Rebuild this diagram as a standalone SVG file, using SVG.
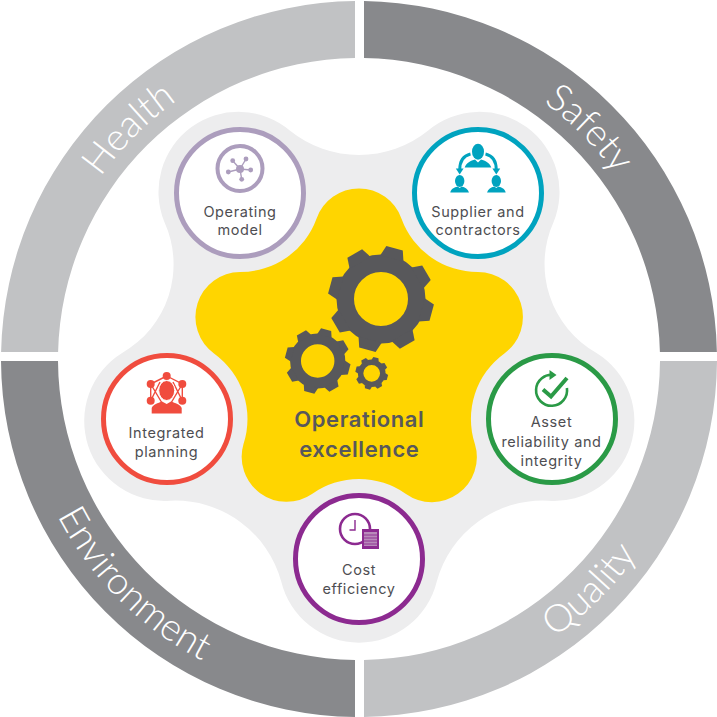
<svg xmlns="http://www.w3.org/2000/svg" xmlns:xlink="http://www.w3.org/1999/xlink" width="717" height="717" viewBox="0 0 717 717">
<style>
.ring-l{fill:#c1c2c4}
.ring-d{fill:#88898c}
.seg{font-family:"Lato","Open Sans",sans-serif;font-weight:300;font-size:38px;fill:#fff;text-anchor:middle}
.lbl{font-family:"Inter","Noto Sans",sans-serif;font-size:14.5px;letter-spacing:.6px;fill:#4e4e52;text-anchor:middle}
.main{font-family:"Inter","Noto Sans",sans-serif;font-weight:600;font-size:22px;letter-spacing:.6px;fill:#58585b;text-anchor:middle}
.disc{fill:#fff;stroke-width:5}
.gearc{fill:#58585b}
</style>
<defs>
<path id="pHealth" d="M43,359A316,316 0 0 1 359,43"/>
<path id="pSafety" d="M359,43A316,316 0 0 1 675,359"/>
<path id="pEnv" d="M19,359A340,340 0 0 0 359,699"/>
<path id="pQual" d="M359,699A340,340 0 0 0 699,359"/>
<polygon id="tooth" points="42,-12 52.500,-8.500 52.500,8.500 42,12"/>
<g id="gear" class="gearc">
<circle cx="0" cy="0" r="35.750" fill="none" stroke="#58585b" stroke-width="17.500"/>
<use xlink:href="#tooth" transform="rotate(-75)"/>
<use xlink:href="#tooth" transform="rotate(-30)"/>
<use xlink:href="#tooth" transform="rotate(15)"/>
<use xlink:href="#tooth" transform="rotate(60)"/>
<use xlink:href="#tooth" transform="rotate(105)"/>
<use xlink:href="#tooth" transform="rotate(150)"/>
<use xlink:href="#tooth" transform="rotate(195)"/>
<use xlink:href="#tooth" transform="rotate(240)"/>
</g>
</defs>
<rect width="717" height="717" fill="#fff"/>

<g id="ring-health">
<path class="ring-l" d="M355,1A358,358 0 0 0 1.100,352H58.100A301,301 0 0 1 355,58Z"/>
<text class="seg"><textPath xlink:href="#pHealth" startOffset="50%">Health</textPath></text>
</g>
<g id="ring-safety">
<path class="ring-d" d="M364,1A358,358 0 0 1 716.900,352H659.900A301,301 0 0 0 364,58Z"/>
<text class="seg"><textPath xlink:href="#pSafety" startOffset="50%">Safety</textPath></text>
</g>
<g id="ring-environment">
<path class="ring-d" d="M1,361A358,358 0 0 0 355,717V660A301,301 0 0 1 58,361Z"/>
<text class="seg"><textPath xlink:href="#pEnv" startOffset="50%">Environment</textPath></text>
</g>
<g id="ring-quality">
<path class="ring-l" d="M717,361A358,358 0 0 1 364,717V660A301,301 0 0 0 660,361Z"/>
<text class="seg"><textPath xlink:href="#pQual" startOffset="50%">Quality</textPath></text>
</g>

<path id="backdrop" fill="#ededee" d="M290.100,130.700A110,110 0 0 0 427.900,130.700A80,80 0 0 1 553.600,222A102,102 0 0 0 596.500,352.900A80,80 0 0 1 548.500,500.700A110,110 0 0 0 436.700,581.700A80,80 0 0 1 281.300,581.700A110,110 0 0 0 170.100,500.700A80,80 0 0 1 122.100,352.900A102,102 0 0 0 164.400,222A80,80 0 0 1 290.100,130.700Z"/>

<g id="centre">
<path fill="#ffd500" d="M316.500,218.700A45,45 0 0 1 401.500,218.700A81,81 0 0 0 478,272A45,45 0 0 1 504.400,353.400A81,81 0 0 0 474.900,444.100A45,45 0 0 1 406,494A81,81 0 0 0 312,494A45,45 0 0 1 243.500,444.100A81,81 0 0 0 214,353.400A45,45 0 0 1 240,272A81,81 0 0 0 316.500,218.700Z"/>
<use xlink:href="#gear" transform="translate(381,299)"/>
<use xlink:href="#gear" transform="translate(317.700,361) scale(.62)"/>
<use xlink:href="#gear" transform="translate(371.700,373.300) scale(.31)"/>
<text class="main" x="359.300" y="427.300">Operational</text>
<text class="main" x="359.300" y="457.300">excellence</text>
</g>

<g id="node-operating-model">
<circle class="disc" cx="240" cy="193" r="63.500" stroke="#ac9dbd"/>
<circle cx="240" cy="168.500" r="22.500" fill="none" stroke="#ac9dbd" stroke-width="4"/>
<g stroke="#ac9dbd" stroke-width="1.400">
<line x1="240" y1="169" x2="232.700" y2="160.700"/>
<line x1="240" y1="169" x2="246" y2="159"/>
<line x1="240" y1="169" x2="250.700" y2="170"/>
<line x1="240" y1="169" x2="241.700" y2="179.300"/>
<line x1="240" y1="169" x2="228.300" y2="172"/>
</g>
<g fill="#ac9dbd">
<circle cx="240" cy="169" r="4"/>
<circle cx="232.700" cy="160.700" r="2.400"/>
<circle cx="246" cy="159" r="2.400"/>
<circle cx="250.700" cy="170" r="2.400"/>
<circle cx="241.700" cy="179.300" r="2.400"/>
<circle cx="228.300" cy="172" r="2.400"/>
</g>
<text class="lbl" x="240" y="216.700">Operating</text>
<text class="lbl" x="240" y="234.500">model</text>
</g>

<g id="node-supplier">
<circle class="disc" cx="478" cy="193" r="63.500" stroke="#00a3bf"/>
<g fill="#00a3bf">
<ellipse cx="478" cy="151.700" rx="6" ry="8"/>
<path d="M464.700,167.500C466,163 471,160.500 475,159.500L478,162.500L481,159.500C485,160.500 490,163 491.300,167.500Z"/>
<ellipse cx="459.700" cy="181" rx="4.700" ry="6"/>
<path d="M450.300,192.500C451,189 454,187.500 457.700,186.500L459.700,188L461.700,186.500C465,187.500 468,189 469,192.500Z"/>
<ellipse cx="496.300" cy="181" rx="4.700" ry="6"/>
<path d="M487,192.500C488,189 491,187.500 494.300,186.500L496.300,188L498.300,186.500C502,187.500 505,189 505.700,192.500Z"/>
<path d="M455.800,168.500L463.600,168.500L459.700,174.500Z"/>
<path d="M492.400,168.500L500.200,168.500L496.300,174.500Z"/>
</g>
<g fill="none" stroke="#00a3bf" stroke-width="3">
<path d="M470.500,154C464,155.500 459.700,161 459.700,170"/>
<path d="M485.500,154C492,155.500 496.300,161 496.300,170"/>
</g>
<text class="lbl" x="478" y="216.700">Supplier and</text>
<text class="lbl" x="478" y="234.500">contractors</text>
</g>

<g id="node-asset">
<circle class="disc" cx="552" cy="419" r="63.500" stroke="#2a9a46"/>
<path d="M554,375A15.500,15.500 0 1 0 566.900,388" fill="none" stroke="#2a9a46" stroke-width="2.600"/>
<polygon points="549.500,370 556.500,375 549.500,380" fill="#2a9a46"/>
<polyline points="543,389.500 551,396.500 567,378" fill="none" stroke="#2a9a46" stroke-width="4"/>
<text class="lbl" x="551.500" y="427">Asset</text>
<text class="lbl" x="551.500" y="446.500">reliability and</text>
<text class="lbl" x="551.500" y="466">integrity</text>
</g>

<g id="node-cost">
<circle class="disc" cx="359" cy="559" r="63.500" stroke="#8c2a90"/>
<circle cx="355" cy="529" r="15" fill="none" stroke="#8c2a90" stroke-width="2.600"/>
<polyline points="355,520 355,530 349.500,530" fill="none" stroke="#8c2a90" stroke-width="1.400"/>
<rect x="362" y="529" width="17" height="20" fill="#8c2a90"/>
<rect x="364" y="532" width="13" height="14" fill="#b98abb"/>
<g stroke="#8c2a90" stroke-width=".9">
<line x1="364" y1="535" x2="377" y2="535"/>
<line x1="364" y1="538" x2="377" y2="538"/>
<line x1="364" y1="541" x2="377" y2="541"/>
<line x1="364" y1="544" x2="377" y2="544"/>
</g>
<text class="lbl" x="359" y="575">Cost</text>
<text class="lbl" x="359" y="594">efficiency</text>
</g>

<g id="node-planning">
<circle class="disc" cx="167" cy="419" r="63.500" stroke="#f04c3e"/>
<g stroke="#f04c3e" stroke-width="1.400" fill="none">
<path d="M166.700,376L150.700,384V400.700M166.700,376L182.300,384V400.700M150.700,384L162,403M182.300,384L171,403M150.700,400.700L160,382M182.300,400.700L173,382"/>
</g>
<g fill="#f04c3e">
<circle cx="166.700" cy="376" r="4"/>
<circle cx="150.700" cy="384" r="4"/>
<circle cx="182.300" cy="384" r="4"/>
<circle cx="150.700" cy="400.700" r="4"/>
<circle cx="182.300" cy="400.700" r="4"/>
<path d="M151.700,413.500V408C153,404.500 158,403 162,401.500L166.700,404L171,401.500C175,403 180.500,404.500 181.700,408V413.500Z"/>
<ellipse cx="166.700" cy="390.500" rx="8" ry="10" stroke="#fff" stroke-width="1"/>
</g>
<text class="lbl" x="166.500" y="437.700">Integrated</text>
<text class="lbl" x="166.500" y="456.500">planning</text>
</g>
</svg>
